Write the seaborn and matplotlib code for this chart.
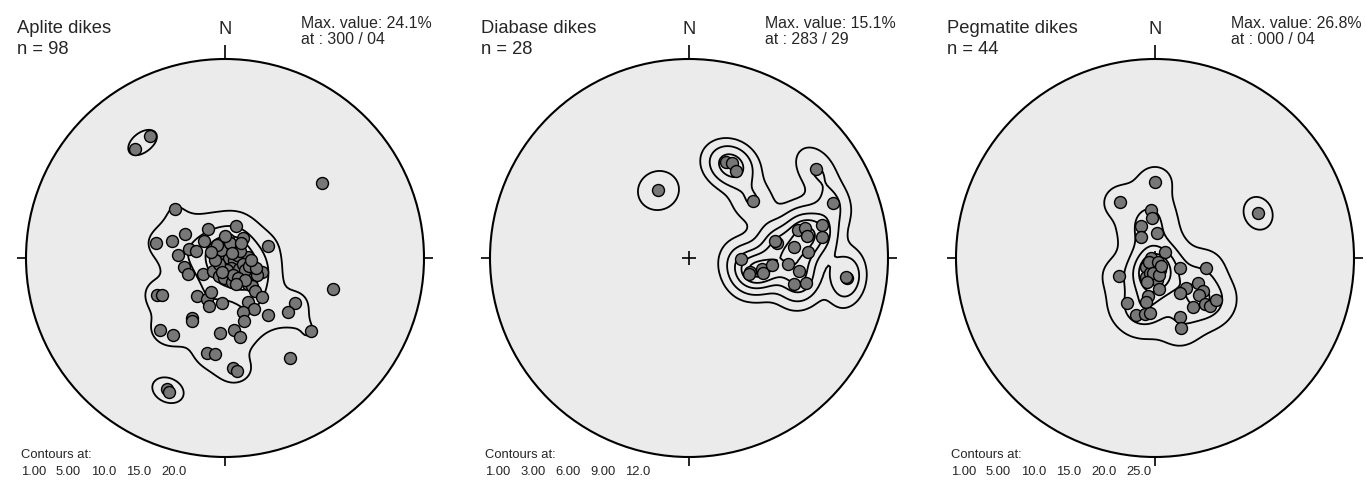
import numpy as np
import matplotlib
matplotlib.use("Agg")
import matplotlib.pyplot as plt
from matplotlib.patches import Circle
import seaborn as sns

# Poles to dike planes on the lower-hemisphere equal-area net,
# given as (east, north) in units of the net radius.
aplite_east = [
    -0.251, -0.347, -0.268, -0.199, -0.084, 0.054, 0.215, -0.235, -0.181, -0.144,
    -0.104, -0.059, 0.017, 0.089, 0.014, -0.055, -0.005, 0.050, 0.114, -0.004,
    0.039, 0.072, -0.205, -0.184, -0.109, -0.062, -0.030, -0.005, 0.034, 0.095,
    0.139, 0.184, 0.159, 0.117, 0.134, 0.151, 0.187, 0.117, 0.146, 0.089,
    0.095, 0.215, -0.343, -0.315, -0.142, -0.092, -0.072, -0.080, -0.014, -0.167,
    -0.164, -0.327, -0.260, -0.025, 0.047, 0.075, -0.092, -0.050, 0.039, 0.059,
    0.352, 0.318, 0.432, 0.327, 0.544, 0.489, -0.293, -0.281, -0.452, -0.377,
    0.000, 0.020, 0.045, 0.060, 0.030, 0.070, 0.010, -0.030, -0.020, 0.090,
    0.050, 0.100, -0.050, 0.025, 0.075, 0.120, 0.040, -0.015, 0.065, 0.100,
    0.155, -0.040, 0.000, 0.130, 0.035, -0.070, 0.080, 0.055,
]
aplite_north = [
    0.247, 0.076, 0.084, 0.122, 0.147, 0.160, 0.059, 0.013, 0.043, 0.033,
    0.083, 0.043, 0.093, 0.102, 0.054, 0.013, -0.001, 0.008, 0.004, -0.029,
    -0.034, -0.033, -0.046, -0.079, -0.079, -0.066, -0.088, -0.102, -0.122, -0.079,
    -0.096, -0.068, -0.084, -0.130, -0.143, -0.168, -0.197, -0.219, -0.255, -0.269,
    -0.319, -0.287, -0.188, -0.188, -0.192, -0.205, -0.172, -0.239, -0.225, -0.301,
    -0.318, -0.361, -0.386, -0.376, -0.364, -0.398, -0.478, -0.481, -0.552, -0.569,
    -0.224, -0.269, -0.366, -0.504, -0.158, 0.378, -0.657, -0.674, 0.550, 0.611,
    0.020, 0.000, -0.010, 0.015, -0.050, -0.055, -0.060, -0.030, 0.040, -0.030,
    0.050, -0.060, -0.010, 0.075, 0.035, -0.040, -0.085, -0.070, -0.100, -0.110,
    -0.050, 0.065, 0.110, -0.010, 0.025, 0.030, 0.075, -0.130,
]

diabase_east = [
    -0.154, 0.792, 0.184, 0.215, 0.235, 0.320, 0.638, 0.725, 0.667, 0.670,
    0.546, 0.583, 0.591, 0.441, 0.529, 0.599, 0.260, 0.307, 0.302, 0.365,
    0.373, 0.416, 0.499, 0.553, 0.528, 0.586, 0.787, 0.432,
]
diabase_north = [
    0.340, -0.101, 0.484, 0.476, 0.437, 0.286, 0.447, 0.275, 0.166, 0.104,
    0.141, 0.152, 0.111, 0.074, 0.054, 0.032, -0.007, -0.069, -0.082, -0.057,
    -0.074, -0.035, -0.032, -0.065, -0.131, -0.124, -0.094, 0.085,
]

pegmatite_east = [
    0.000, -0.176, -0.020, -0.014, -0.072, -0.072, 0.012, 0.050, -0.022, -0.045,
    0.000, -0.047, 0.005, 0.009, 0.020, 0.126, 0.255, -0.181, 0.156, 0.126,
    0.215, 0.240, 0.221, 0.192, 0.251, 0.276, 0.305, -0.034, -0.045, -0.139,
    -0.095, -0.050, -0.025, 0.126, 0.129, 0.519, -0.025, 0.025, -0.030, 0.015,
    -0.010, 0.020, -0.040, 0.030,
]
pegmatite_north = [
    0.383, 0.283, 0.241, 0.199, 0.162, 0.107, 0.127, 0.029, 0.002, -0.047,
    -0.047, -0.094, -0.094, -0.111, -0.156, -0.052, -0.052, -0.090, -0.149, -0.177,
    -0.127, -0.166, -0.186, -0.245, -0.231, -0.241, -0.211, -0.189, -0.220, -0.228,
    -0.286, -0.281, -0.278, -0.298, -0.353, 0.225, -0.077, -0.060, -0.020, -0.020,
    -0.075, -0.085, -0.120, -0.040,
]

titles = ["Aplite dikes", "Diabase dikes", "Pegmatite dikes"]
max_values = ["24.1%", "15.1%", "26.8%"]
max_orientations = ["300 / 04", "283 / 29", "000 / 04"]
contour_levels = [
    [1.0, 5.0, 10.0, 15.0, 20.0],
    [1.0, 3.0, 6.0, 9.0, 12.0],
    [1.0, 5.0, 10.0, 15.0, 20.0, 25.0],
]

datasets = [
    (aplite_east, aplite_north),
    (diabase_east, diabase_north),
    (pegmatite_east, pegmatite_north),
]

sns.set_theme(style="white")
plt.rcParams["font.family"] = ["Liberation Sans", "DejaVu Sans"]

W, H = 1366, 480
fig = plt.figure(figsize=(W / 100, H / 100), dpi=100)
fig.patch.set_facecolor("white")

R = 199.0          # net radius in pixels
HALF = 232.0       # half-size of each panel's axes in pixels
centers_x = [225.0, 689.0, 1155.0]
center_y = 258.0   # from the top edge


def net_vectors(x, y):
    """Unit vectors for points on the equal-area net (inverse Schmidt projection)."""
    x = np.asarray(x, dtype=float)
    y = np.asarray(y, dtype=float)
    r2 = x ** 2 + y ** 2
    s = np.sqrt(np.clip(2.0 - r2, 0.0, None))
    return np.stack([x * s, y * s, 1.0 - r2], axis=-1)


def pole_density(px, py, gx, gy, kappa=110.0, weight=0.85):
    """Percent of poles per 1% area, smoothed with an exponential kernel."""
    poles = net_vectors(px, py)
    nodes = net_vectors(gx, gy)
    cosd = np.abs(nodes @ poles.T)
    counts = weight * np.exp(kappa * (cosd - 1.0))
    return 100.0 / len(px) * counts.sum(axis=-1)


def level_text(v):
    return f"{v:.2f}" if v < 10 else f"{v:.1f}"


grid = np.linspace(-1.0, 1.0, 181)
gx, gy = np.meshgrid(grid, grid)
outside = gx ** 2 + gy ** 2 > 1.0

for i, (east, north) in enumerate(datasets):
    cx = centers_x[i]
    ax = fig.add_axes([
        (cx - HALF) / W,
        (H - center_y - HALF) / H,
        2 * HALF / W,
        2 * HALF / H,
    ])
    lim = HALF / R
    ax.set_xlim(-lim, lim)
    ax.set_ylim(-lim, lim)
    ax.axis("off")
    ax.patch.set_alpha(0)

    # primitive circle
    net = Circle((0, 0), 1.0, facecolor="#ebebeb", edgecolor="none", zorder=1)
    ax.add_patch(net)
    rim = Circle((0, 0), 1.0, facecolor="none", edgecolor="black", lw=1.5, zorder=6)
    ax.add_patch(rim)

    # cardinal ticks
    tick_kw = dict(color="black", lw=1.2, solid_capstyle="butt", zorder=6)
    ax.plot([0, 0], [1.0, 1.0 + 14 / R], **tick_kw)
    ax.plot([0, 0], [-1.0, -1.0 - 9 / R], **tick_kw)
    ax.plot([-1.0, -1.0 - 9 / R], [0, 0], **tick_kw)
    ax.plot([1.0, 1.0 + 9 / R], [0, 0], **tick_kw)

    # centre cross
    c = 7 / R
    ax.plot([-c, c], [0, 0], **{**tick_kw, "zorder": 2})
    ax.plot([0, 0], [-c, c], **{**tick_kw, "zorder": 2})

    # density contours
    dens = pole_density(east, north, gx, gy)
    dens = np.ma.masked_where(outside, dens)
    cs = ax.contour(gx, gy, dens, levels=contour_levels[i], colors="black",
                    linewidths=1.3, zorder=3)
    cs.set_clip_path(net)

    # poles
    sns.scatterplot(x=east, y=north, ax=ax, s=74, color="#777777",
                    edgecolor="black", linewidth=1.0, zorder=5, legend=False)

    # labels
    ax.text(-208 / R, (center_y - 33) / R, titles[i], fontsize=13.2,
            ha="left", va="baseline")
    ax.text(-208 / R, (center_y - 54) / R, f"n = {len(east)}", fontsize=13.2,
            ha="left", va="baseline")
    ax.text(0, (center_y - 34) / R, "N", fontsize=13.2, ha="center", va="baseline")
    ax.text(76 / R, (center_y - 28) / R, f"Max. value: {max_values[i]}",
            fontsize=11.4, ha="left", va="baseline")
    ax.text(76 / R, (center_y - 44) / R, f"at : {max_orientations[i]}",
            fontsize=11.4, ha="left", va="baseline")
    ax.text(-204 / R, (center_y - 457.5) / R, "Contours at:", fontsize=9.4,
            ha="left", va="baseline")
    for j, v in enumerate(contour_levels[i]):
        ax.text((-204 + 35 * j) / R, (center_y - 475) / R, level_text(v),
                fontsize=9.4, ha="left", va="baseline")

fig.savefig("out.png", dpi=100, facecolor="white")
